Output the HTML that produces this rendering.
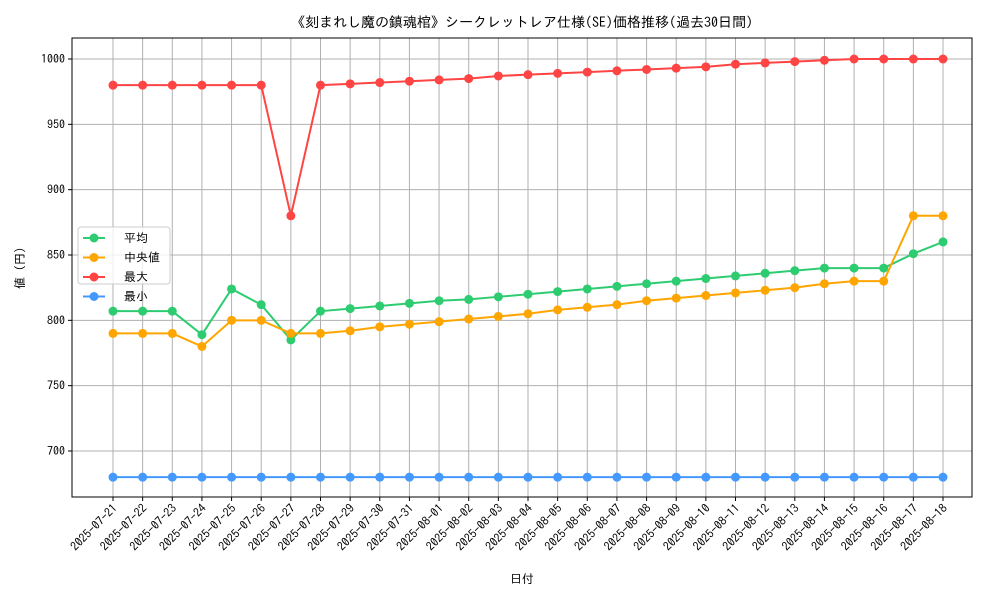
<!DOCTYPE html>
<html><head><meta charset="utf-8"><style>
body{margin:0;background:#fff;font-family:"IPAGothic","Noto Sans CJK JP",sans-serif;}
svg text{font-family:"IPAGothic","Noto Sans CJK JP",sans-serif;fill:#000;}
</style></head><body>
<svg id="chart" width="1000" height="600" xmlns="http://www.w3.org/2000/svg">
<rect width="1000" height="600" fill="#fff"/>
<text x="522" y="27" text-anchor="middle" font-size="14">《刻まれし魔の鎮魂棺》シークレットレア仕様(SE)価格推移(過去30日間)</text>
<g id="grid"></g><g id="series"></g><g id="axes"></g>
<text x="522" y="583" text-anchor="middle" font-size="12">日付</text>
<text transform="translate(24,268) rotate(-90)" text-anchor="middle" font-size="12">値 (円)</text>
<g id="legend"></g>
</svg>
<script>
const categories=["2025-07-21","2025-07-22","2025-07-23","2025-07-24","2025-07-25","2025-07-26","2025-07-27","2025-07-28","2025-07-29","2025-07-30","2025-07-31","2025-08-01","2025-08-02","2025-08-03","2025-08-04","2025-08-05","2025-08-06","2025-08-07","2025-08-08","2025-08-09","2025-08-10","2025-08-11","2025-08-12","2025-08-13","2025-08-14","2025-08-15","2025-08-16","2025-08-17","2025-08-18"];
const avgValues=[807,807,807,789,824,812,785,807,809,811,813,815,816,818,820,822,824,826,828,830,832,834,836,838,840,840,840,851,860];
const medianValues=[790,790,790,780,800,800,790,790,792,795,797,799,801,803,805,808,810,812,815,817,819,821,823,825,828,830,830,880,880];
const maxValues=[980,980,980,980,980,980,880,980,981,982,983,984,985,987,988,989,990,991,992,993,994,996,997,998,999,1000,1000,1000,1000];
const minValues=[680,680,680,680,680,680,680,680,680,680,680,680,680,680,680,680,680,680,680,680,680,680,680,680,680,680,680,680,680];
const yTicks=[700,750,800,850,900,950,1000];
const seriesNames=["平均","中央値","最大","最小"];
const colors=["#2ecc71","#ffa500","#ff4444","#4499ff"];
const L=72,R=972,T=38,B=497;
const x=i=>113+i*(943-113)/28;
const y=v=>451-(v-700)*(451-59)/300;
const NS="http://www.w3.org/2000/svg";
function mk(tag,attrs,parent){const e=document.createElementNS(NS,tag);for(const k in attrs)e.setAttribute(k,attrs[k]);parent.appendChild(e);return e;}
const grid=document.getElementById('grid'),axes=document.getElementById('axes'),ser=document.getElementById('series'),leg=document.getElementById('legend');
categories.forEach((c,i)=>{
 const g=mk('line',{x1:x(i),x2:x(i),y1:T,y2:B,stroke:'#b0b0b0','stroke-width':1},grid);
 
 const t=mk('line',{x1:x(i),x2:x(i),y1:B,y2:B+4,stroke:'#000'},axes);
 
 const tx=mk('text',{x:x(i)+5,y:B+12,'text-anchor':'end','font-size':12,transform:`rotate(-45 ${x(i)+5} ${B+12})`},axes);
 tx.textContent=c;
 
});
yTicks.forEach(v=>{
 const g=mk('line',{x1:L,x2:R,y1:y(v),y2:y(v),stroke:'#b0b0b0','stroke-width':1},grid);
 
 const t=mk('line',{x1:L-4,x2:L,y1:y(v),y2:y(v),stroke:'#000'},axes);
 
 const tx=mk('text',{x:L-7,y:y(v)+4,'text-anchor':'end','font-size':12},axes);
 tx.textContent=v;
 
});
const frame=mk('rect',{x:L,y:T,width:R-L,height:B-T,fill:'none',stroke:'#000','stroke-width':1},axes);

[avgValues,medianValues,maxValues,minValues].forEach((vals,s)=>{
 const pl=mk('polyline',{points:vals.map((v,i)=>x(i)+','+y(v)).join(' '),fill:'none',stroke:colors[s],'stroke-width':2},ser);
 
 vals.forEach((v,i)=>{const c=mk('circle',{cx:x(i),cy:y(v),r:4.5,fill:colors[s]},ser);
  });
});
const lb=mk('rect',{x:78,y:227,width:92,height:57,rx:3,fill:'#fff','fill-opacity':0.8,stroke:'#ccc'},leg);

seriesNames.forEach((n,s)=>{
 const yy=238+s*19.5;
 const ln=mk('line',{x1:83,x2:105,y1:yy,y2:yy,stroke:colors[s],'stroke-width':2},leg);
 
 const c=mk('circle',{cx:94,cy:yy,r:4.5,fill:colors[s]},leg);
 
 const t=mk('text',{x:124,y:yy+4,'font-size':12},leg);t.textContent=n;
 
});
</script>
</body></html>
